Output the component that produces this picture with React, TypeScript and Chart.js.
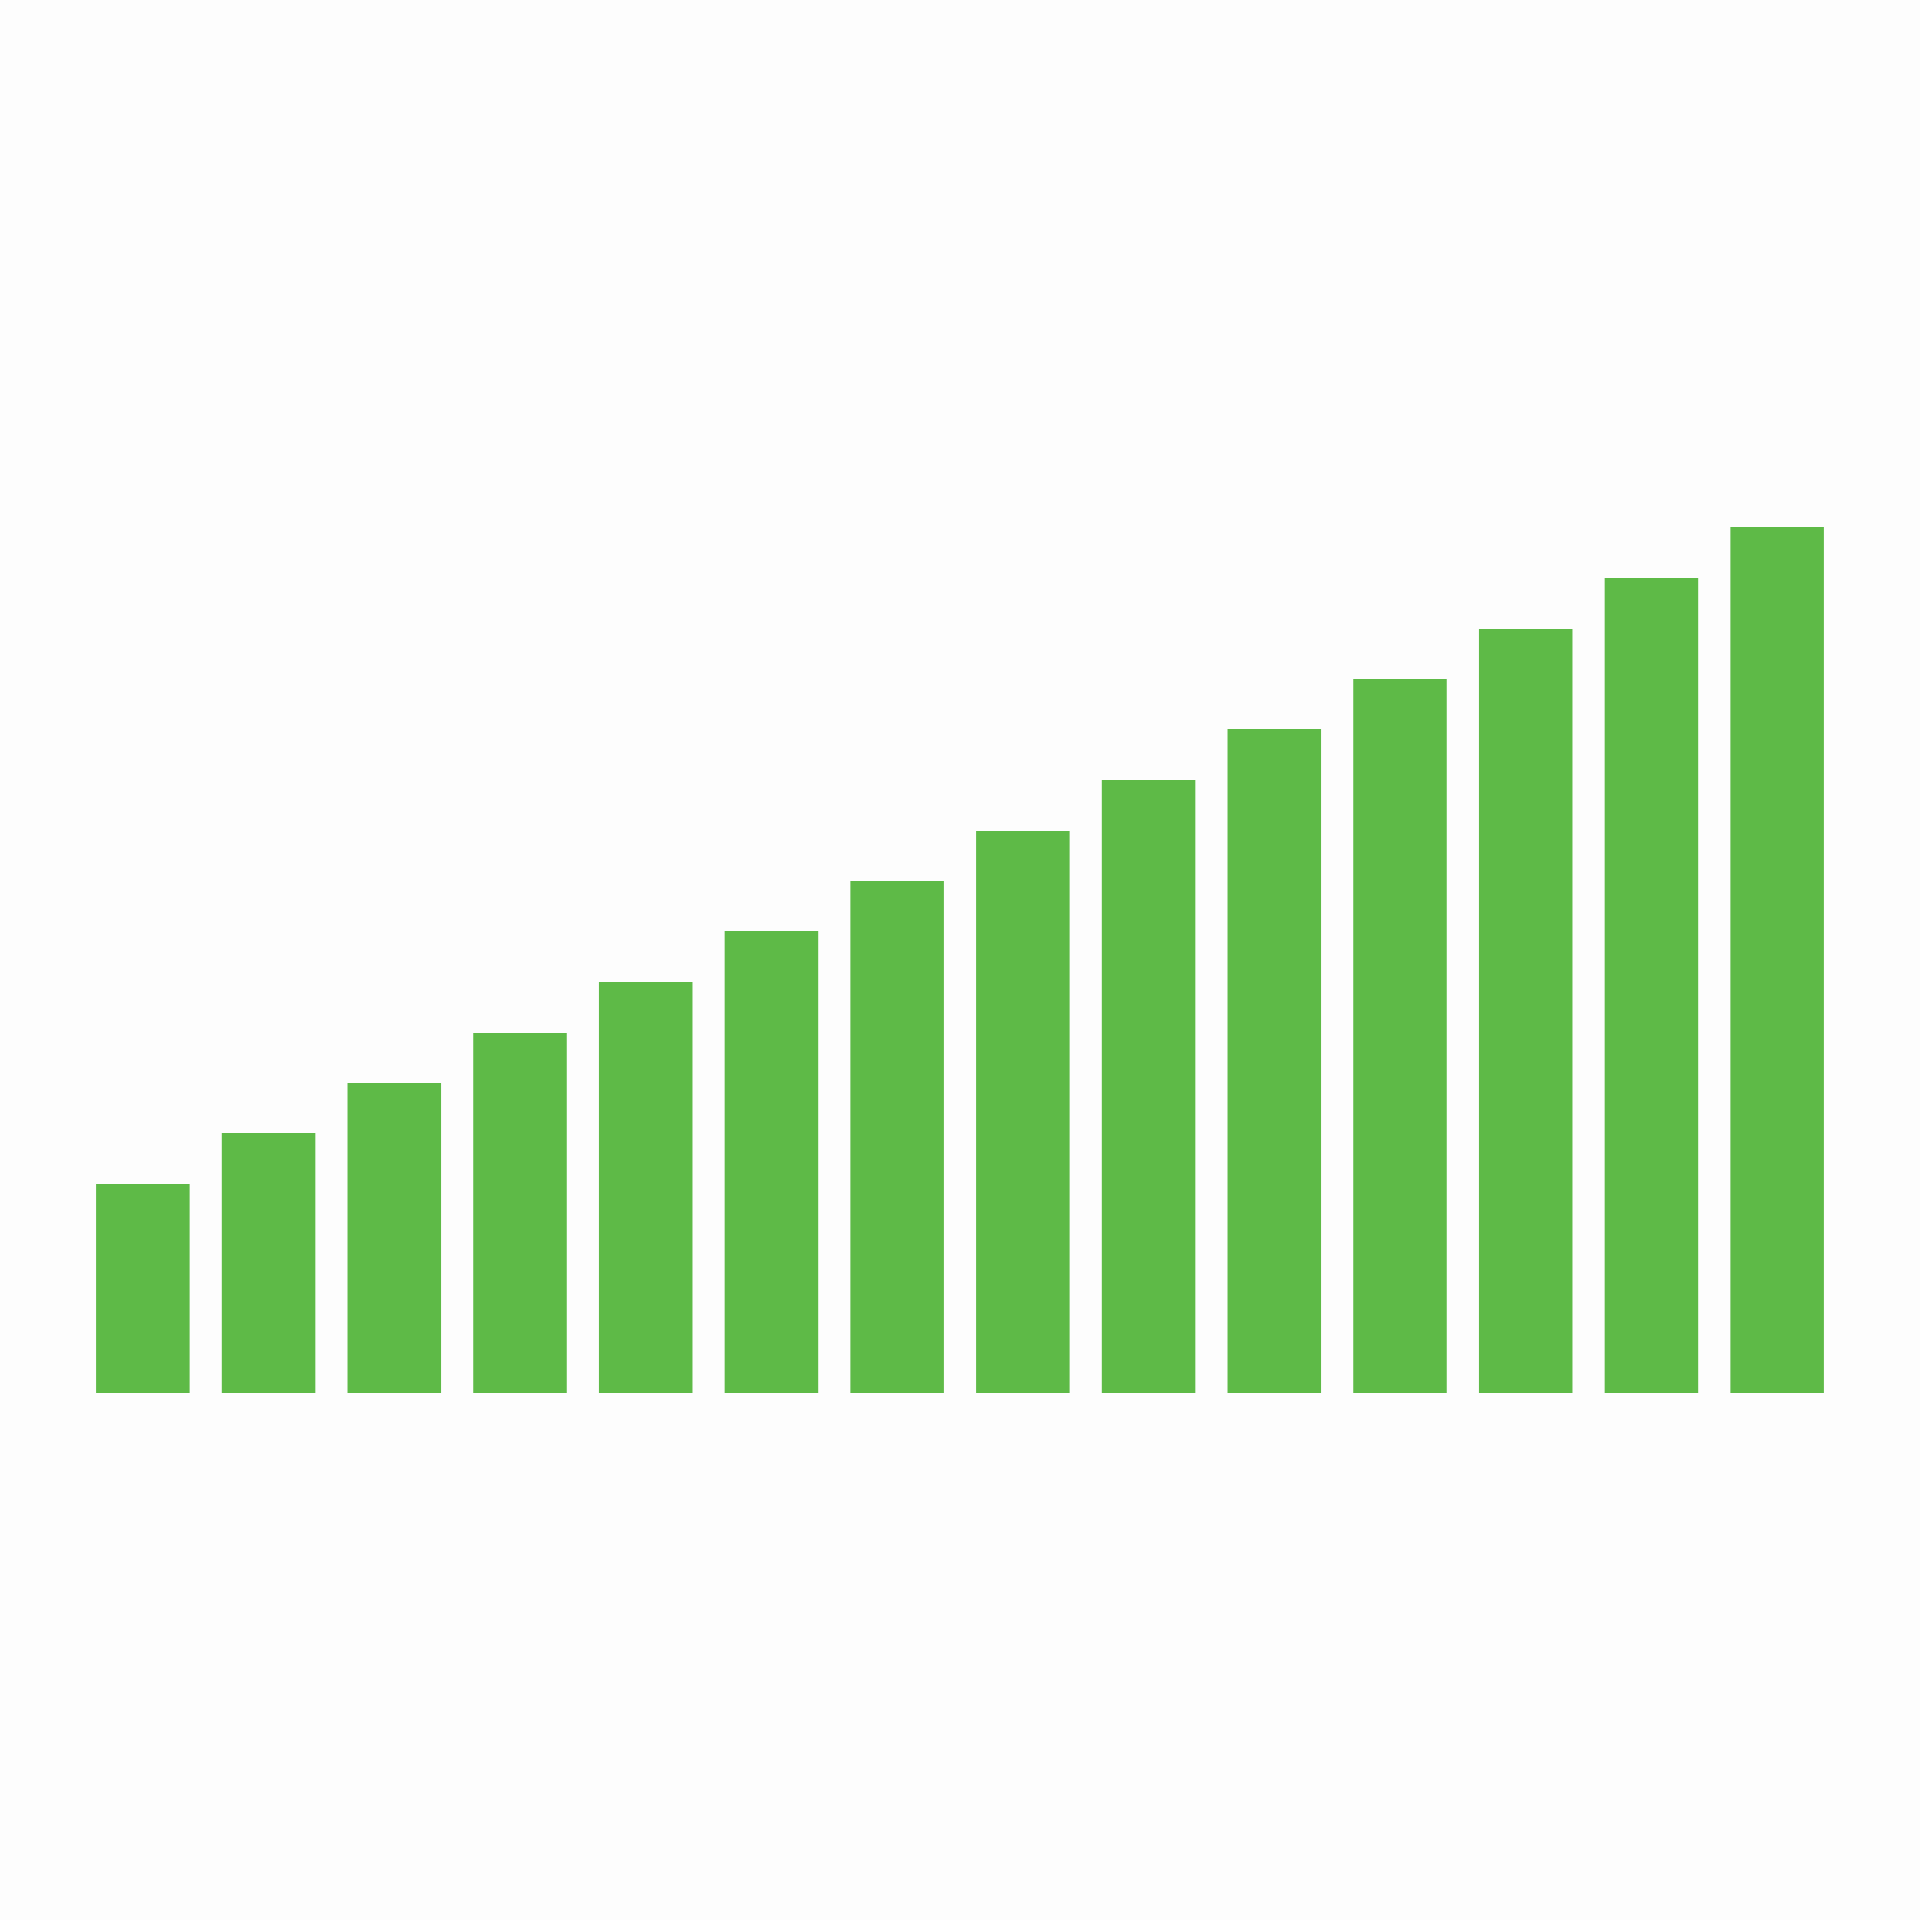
import { useEffect, useRef } from "react"
import Chart from "chart.js/auto"

// one bar per step (bar heights in px at full size)
const labels = ["1", "2", "3", "4", "5", "6", "7", "8", "9", "10", "11", "12", "13", "14"]
const values = [209, 260, 310, 360, 411, 462, 512, 562, 613, 664, 714, 764, 815, 866]
const yMax = 866

export default function App() {
  const canvasRef = useRef<HTMLCanvasElement>(null)
  const chartRef = useRef<Chart | null>(null)

  useEffect(() => {
    document.body.style.margin = "0"
    document.body.style.background = "#fdfdfd"
    if (!canvasRef.current) return
    if (chartRef.current) chartRef.current.destroy()

    chartRef.current = new Chart(canvasRef.current, {
      type: "bar",
      data: {
        labels,
        datasets: [
          {
            data: values,
            backgroundColor: "#5eba47",
            borderWidth: 0,
            categoryPercentage: 1,
            barPercentage: 0.744,
          },
        ],
      },
      options: {
        responsive: false,
        animation: false,
        devicePixelRatio: 1,
        layout: {
          padding: { left: 80, right: 80, top: 527, bottom: 527 },
        },
        plugins: {
          legend: { display: false },
          tooltip: { enabled: false },
        },
        scales: {
          x: { display: false },
          y: { display: false, min: 0, max: yMax },
        },
      },
    })

    return () => {
      if (chartRef.current) {
        chartRef.current.destroy()
        chartRef.current = null
      }
    }
  }, [])

  return (
    <div style={{ position: "absolute", left: 0, top: 0, width: 1920, height: 1920, background: "#fdfdfd" }}>
      <canvas ref={canvasRef} width={1920} height={1920} />
    </div>
  )
}
